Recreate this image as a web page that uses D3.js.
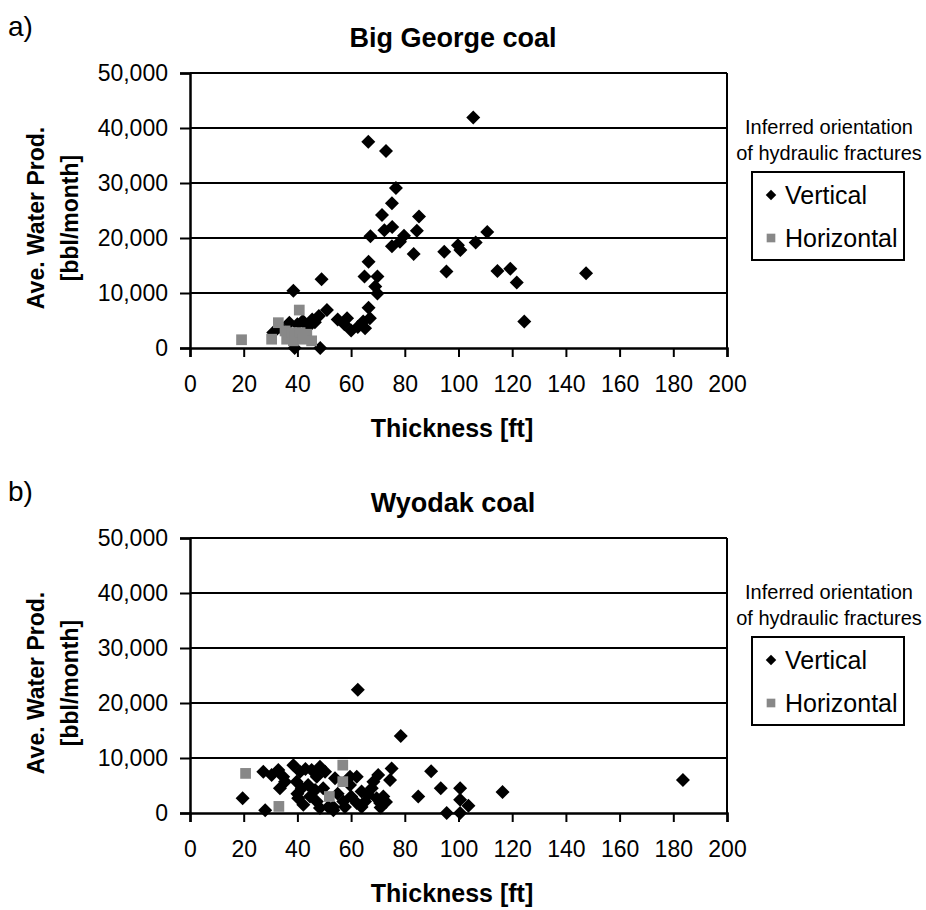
<!DOCTYPE html>
<html lang="en">
<head>
<meta charset="utf-8">
<title>Water production vs thickness</title>
<script src="https://d3js.org/d3.v7.min.js"></script>
<style>
  body { margin: 0; background: #fff; }
  text { font-family: "Liberation Sans", Arial, sans-serif; fill: #000; }
</style>
</head>
<body>
<svg id="chart" width="926" height="910"></svg>
<script>
// ---------------- data ----------------
var xTicks = [0, 20, 40, 60, 80, 100, 120, 140, 160, 180, 200];
var yTicks = [0, 10000, 20000, 30000, 40000, 50000];

// Big George coal, [thickness ft, water bbl/month]
var bigGeorgeVertical = [
  [31, 2800], [34, 3600], [37, 4600], [38.5, 10400], [39, 0], [40, 4300], [42, 4900],
  [44, 3800], [45.5, 5200], [46.5, 4700], [48, 5800], [48.5, 0], [49, 12500], [51, 6900],
  [55, 5200], [57.5, 4300], [58.5, 5400], [60, 3200], [62.5, 3800], [64.5, 4800],
  [65, 13000], [65.2, 3600], [66.5, 15700], [66.5, 7300], [67, 5400], [66.4, 37500],
  [67.2, 20300], [69, 11200], [69.8, 13000], [69.8, 9900], [71.5, 24200], [72.4, 21400],
  [73, 35800], [75.2, 26300], [75.3, 22000], [75.2, 18500], [76.7, 29100], [78.2, 19300],
  [79.7, 20400], [83.3, 17100], [84.5, 21300], [85.3, 23900], [94.7, 17500], [95.5, 13900],
  [99.8, 18700], [100.7, 17800], [105.5, 41900], [106.4, 19200], [110.7, 21100],
  [114.5, 14000], [119.3, 14400], [121.7, 11900], [124.5, 4800], [147.5, 13600]
];
var bigGeorgeHorizontal = [
  [19.2, 1500], [30.4, 1600], [32.9, 4600], [35.4, 3100], [36, 1600], [37.9, 2800],
  [38.5, 1300], [39, 2000], [40.7, 6900], [41, 2800], [42.2, 1600], [43.5, 2500], [45.3, 1300]
];

// Wyodak coal
var wyodakVertical = [
  [19.6, 2700], [28, 500], [27.3, 7500], [30.4, 6900], [32.9, 7800], [34.7, 6600], [35.4, 5700],
  [33.5, 4500], [38.5, 8700], [41, 7500], [39.7, 5700], [41.6, 4500], [40.3, 2700], [42.2, 1500],
  [40, 3500], [43, 8000], [45.3, 7800], [48.4, 8400], [47.2, 6600], [50.3, 7500], [44, 5100],
  [46.6, 4200], [44.7, 3000], [47.2, 2100], [49.6, 4500], [48.4, 900], [51.5, 1100], [53.4, 1100],
  [54, 6300], [53.4, 500], [55, 3500], [57.1, 2100], [57.7, 1100], [59.6, 5100], [59.6, 6600],
  [60, 3000], [62.1, 6600], [62.1, 1800], [63.9, 3900], [63.9, 1100], [65.2, 2100], [66.4, 3300],
  [67.7, 4500], [68.3, 5700], [69.5, 2700], [70.1, 6900], [70.8, 1800], [71, 1000], [72, 3000],
  [73, 2000], [74.5, 6000], [75.1, 8100], [78.5, 14000], [62.5, 22400], [85, 3000], [89.8, 7600],
  [93.4, 4500], [95.6, 0], [100.6, 4500], [100.6, 2400], [100.6, 0], [103.7, 1300], [116.4, 3800],
  [183.6, 6000]
];
var wyodakHorizontal = [
  [20.7, 7200], [33.1, 1200], [51.9, 3000], [56.9, 5700], [56.9, 8700]
];

var panels = [
  { label: "a)", title: "Big George coal", vertical: bigGeorgeVertical, horizontal: bigGeorgeHorizontal, dy: 0 },
  { label: "b)", title: "Wyodak coal", vertical: wyodakVertical, horizontal: wyodakHorizontal, dy: 465 }
];

// ---------------- layout ----------------
var plotLeft = 190, plotRight = 727, plotTop = 73, plotBottom = 348;
var grey = "#888888";

var svg = d3.select("#chart");

var x = d3.scaleLinear().domain([0, 200]).range([plotLeft, plotRight]);
var y = d3.scaleLinear().domain([0, 50000]).range([plotBottom, plotTop]);

var diamond = d3.symbol().type(d3.symbolSquare).size(98);
var square = d3.symbol().type(d3.symbolSquare).size(115);

panels.forEach(function (p) {
  var g = svg.append("g").attr("transform", "translate(0," + p.dy + ")");

  g.append("text").attr("x", 8).attr("y", 36)
    .style("font-size", "28px").text(p.label);

  g.append("text").attr("x", 453).attr("y", 47)
    .attr("text-anchor", "middle")
    .style("font-size", "27px").style("font-weight", "bold")
    .text(p.title);

  // gridlines + frame
  g.selectAll(".grid")
    .data(yTicks.filter(function (d) { return d > 0; }))
    .enter().append("line")
    .attr("x1", plotLeft).attr("x2", plotRight)
    .attr("y1", function (d) { return y(d); })
    .attr("y2", function (d) { return y(d); })
    .attr("stroke", "#000").attr("stroke-width", 2);
  g.append("line")
    .attr("x1", plotRight).attr("x2", plotRight)
    .attr("y1", plotTop).attr("y2", plotBottom)
    .attr("stroke", "#000").attr("stroke-width", 2);

  // axes
  var yAxis = g.append("g").attr("transform", "translate(" + plotLeft + ",0)")
    .call(d3.axisLeft(y).tickValues(yTicks).tickSize(10).tickPadding(12).tickFormat(d3.format(",")));
  var xAxis = g.append("g").attr("transform", "translate(0," + plotBottom + ")")
    .call(d3.axisBottom(x).tickValues(xTicks).tickSize(9).tickPadding(19));
  [yAxis, xAxis].forEach(function (a) {
    a.select(".domain").attr("stroke-width", 2.5);
    a.selectAll(".tick line").attr("stroke-width", 2);
    a.selectAll(".tick text").style("font-size", "23px")
      .style("font-family", "'Liberation Sans', Arial, sans-serif").attr("fill", "#000");
  });

  // axis titles
  g.append("text").attr("x", 452).attr("y", 437)
    .attr("text-anchor", "middle")
    .style("font-size", "25px").style("font-weight", "bold")
    .text("Thickness [ft]");
  var yt = g.append("text")
    .attr("transform", "translate(0,218) rotate(-90)")
    .attr("text-anchor", "middle")
    .style("font-size", "23px").style("font-weight", "bold");
  yt.append("tspan").attr("x", 0).attr("y", 44).text("Ave. Water Prod.");
  yt.append("tspan").attr("x", 0).attr("y", 78).text("[bbl/month]");

  // points
  g.selectAll(".vert")
    .data(p.vertical)
    .enter().append("path")
    .attr("d", diamond)
    .attr("transform", function (d) { return "translate(" + x(d[0]) + "," + y(d[1]) + ") rotate(45)"; })
    .attr("fill", "#000");
  g.selectAll(".hor")
    .data(p.horizontal)
    .enter().append("path")
    .attr("d", square)
    .attr("transform", function (d) { return "translate(" + x(d[0]) + "," + y(d[1]) + ")"; })
    .attr("fill", grey);

  // legend
  g.append("text").attr("x", 829).attr("y", 134).attr("text-anchor", "middle")
    .style("font-size", "20px").text("Inferred orientation");
  g.append("text").attr("x", 829).attr("y", 160).attr("text-anchor", "middle")
    .style("font-size", "20px").text("of hydraulic fractures");
  g.append("rect").attr("x", 752).attr("y", 172).attr("width", 152).attr("height", 88)
    .attr("fill", "#fff").attr("stroke", "#000").attr("stroke-width", 2);
  g.append("path").attr("d", d3.symbol().type(d3.symbolSquare).size(55))
    .attr("transform", "translate(771,195) rotate(45)").attr("fill", "#000");
  g.append("path").attr("d", d3.symbol().type(d3.symbolSquare).size(75))
    .attr("transform", "translate(771,238)").attr("fill", grey);
  g.append("text").attr("x", 785).attr("y", 204).style("font-size", "25px").text("Vertical");
  g.append("text").attr("x", 785).attr("y", 247).style("font-size", "25px").text("Horizontal");
});
</script>
</body>
</html>
